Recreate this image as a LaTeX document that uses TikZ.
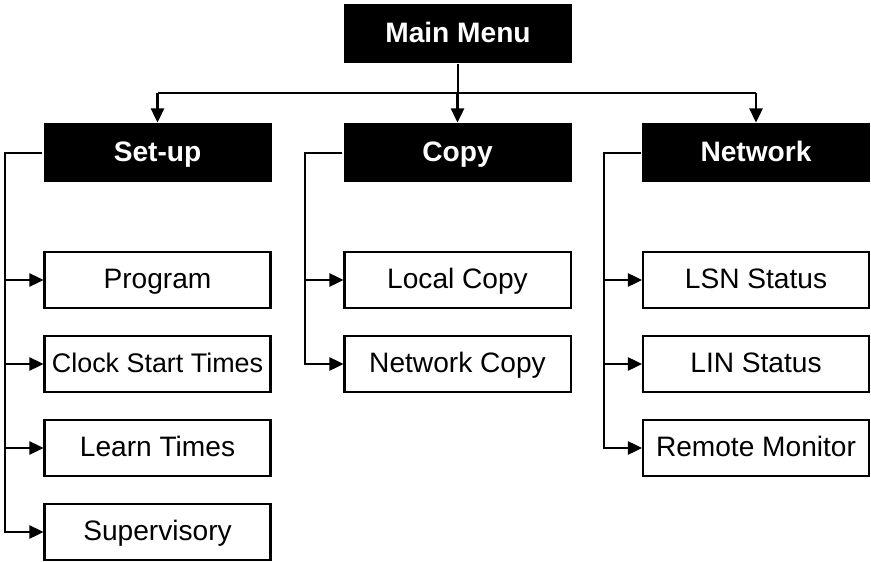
\documentclass[tikz,border=0pt]{standalone}
\usepackage{fontspec}
\setmainfont{Liberation Sans}
\usetikzlibrary{arrows.meta}

\begin{document}
\begin{tikzpicture}[line width=1.15pt, >={Triangle[length=8pt,width=7.5pt]}]
	\tikzstyle{head}=[fill=black, text=white, font=\fontsize{16}{19}\selectfont\bfseries, minimum width=4.56cm, minimum height=1.18cm, inner sep=0pt, text height=11.5pt, text depth=1.5pt]
	\tikzstyle{item}=[draw=black, font=\fontsize{16}{19}\selectfont, minimum width=4.52cm, minimum height=1.12cm, inner sep=0pt, text height=11.5pt, text depth=1.5pt]

	\useasboundingbox (0,0) rectangle (17.42,-11.24);

	\node[head] (main) at (9.16,-0.67) {Main Menu};
	\node[head] (setup) at (3.15,-3.06) {Set-up};
	\node[head] (copy) at (9.15,-3.06) {Copy};
	\node[head] (network) at (15.12,-3.06) {Network};

	\node[item] (program) at (3.15,-5.6) {Program};
	\node[item, font=\fontsize{15.3}{19}\selectfont] (clock) at (3.15,-7.28) {Clock Start Times};
	\node[item] (learn) at (3.15,-8.96) {Learn Times};
	\node[item] (supervisory) at (3.15,-10.64) {Supervisory};

	\node[item] (localcopy) at (9.15,-5.6) {Local Copy};
	\node[item] (netcopy) at (9.15,-7.28) {Network Copy};

	\node[item] (lsn) at (15.12,-5.6) {LSN Status};
	\node[item] (lin) at (15.12,-7.28) {LIN Status};
	\node[item] (remote) at (15.12,-8.96) {Remote Monitor};

	\coordinate (bar) at (0,-1.86);
	\coordinate (sbus) at (0.1,-3.06);
	\coordinate (cbus) at (6.1,-3.06);
	\coordinate (nbus) at (12.08,-3.06);

	\draw (main.south) -- (main.south |- bar);
	\draw (setup.north |- bar) -- (network.north |- bar);
	\draw[->] (setup.north |- bar) -- (setup.north);
	\draw[->] (copy.north |- bar) -- (copy.north);
	\draw[->] (network.north |- bar) -- (network.north);

	\draw[->] (setup.west) -- (sbus) |- (supervisory.west);
	\draw[->] (sbus |- program.west) -- (program.west);
	\draw[->] (sbus |- clock.west) -- (clock.west);
	\draw[->] (sbus |- learn.west) -- (learn.west);

	\draw[->] (copy.west) -- (cbus) |- (netcopy.west);
	\draw[->] (cbus |- localcopy.west) -- (localcopy.west);

	\draw[->] (network.west) -- (nbus) |- (remote.west);
	\draw[->] (nbus |- lsn.west) -- (lsn.west);
	\draw[->] (nbus |- lin.west) -- (lin.west);
\end{tikzpicture}
\end{document}
